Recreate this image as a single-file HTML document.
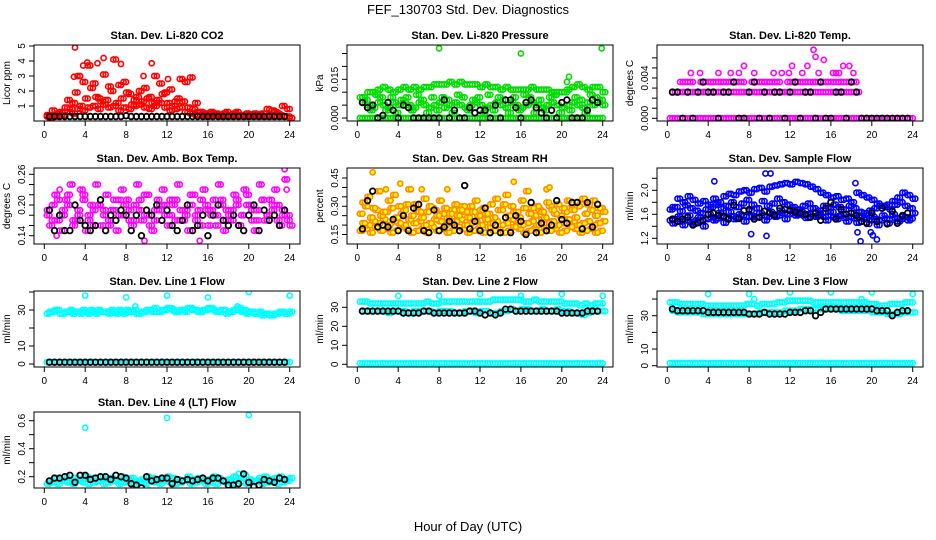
<!DOCTYPE html>
<html><head><meta charset="utf-8"><style>
html,body{margin:0;padding:0;background:#fff}
svg{display:block;font-family:"Liberation Sans",Arial,sans-serif}
</style></head><body>
<svg id="chart" width="936" height="540" viewBox="0 0 936 540" xmlns="http://www.w3.org/2000/svg">
<rect x="0" y="0" width="936" height="540" fill="#fff"/>
<text x="468" y="14" text-anchor="middle" font-size="13">FEF_130703  Std. Dev. Diagnostics</text>
<text x="468" y="531" text-anchor="middle" font-size="13">Hour of Day (UTC)</text>
</svg>
<script>
function parse(s){return s.trim().split(/\s+/).map(function(v){return v==='x'?null:+v;});}
// hour categories
const hourTicks = [0,4,8,12,16,20,24];
const hourTickLabels = ["0","4","8","12","16","20","24"];
// P1 CO2
const co2Low = parse("0.3 0.3 0.5 0.4 0.6 0.5 0.8 0.7 0.9 1.0 0.8 1.1 0.9 1.0 0.7 0.9 0.8 1.0 1.1 0.9 0.8 1.0 1.2 0.9 0.7 0.8 0.9 0.6 0.5 0.4 0.4 0.3 0.3 0.4 0.3 0.3 0.3 0.3 0.4 0.3 0.3 0.3 0.3 0.3 0.3 0.3 0.3 0.3");
const co2High = parse("0.4 0.7 0.3 0.6 1.4 1.2 3.0 2.6 3.7 2.5 1.5 3.1 2.3 4.1 2.4 2.6 1.8 1.4 2.0 2.2 1.6 3.0 2.5 1.9 2.1 1.3 2.8 2.6 2.9 1.2 0.6 0.5 0.6 0.5 0.4 0.6 0.4 0.6 0.3 0.5 0.4 0.4 0.5 0.8 0.7 0.5 1.0 0.8");
const co2Mid = parse("0.2 0.4 0.6 0.9 0.8 1.9 1.0 1.5 2.2 1.6 1.3 1.4 2.0 1.2 1.5 1.9 1.1 1.6 1.3 1.5 1.2 1.4 1.8 1.2 1.0 1.5 1.3 0.9 0.8 0.6 0.5 0.4 0.5 0.4 0.5 0.4 0.5 0.4 0.3 0.4 0.5 0.4 0.3 0.4 0.6 0.4 0.3 0.2");
const co2OutHour = [3,4.2,5.8,3.8,7.5,10.5,5.2,2.9,9.7,12.1];
const co2OutVal = [4.9,3.9,4.2,3.7,3.8,3.85,3.85,2.95,3.0,2.8];
const co2Black = parse("0.3 0.3 0.3 0.3 0.3 0.3 0.3 0.3 0.3 0.3 0.3 0.3 0.3 0.3 0.3 0.35 0.3 0.3 0.3 0.3 0.3 0.3 0.3 0.3 0.3 0.3 0.3 0.3 0.3 0.3 0.3 0.3 0.3 0.3 0.3 0.3 0.3 0.3 0.3 0.3 0.3 0.3 0.3 0.3 0.3 0.3 0.3");
// P2 pressure
const presUpper = parse("0.008 0.010 0.010 0.011 0.012 0.011 0.010 0.011 0.012 0.011 0.012 0.011 0.012 0.012 0.013 0.013 0.013 0.014 0.013 0.014 0.013 0.013 0.013 0.012 0.013 0.012 0.012 0.011 0.012 0.011 0.011 0.011 0.011 0.012 0.011 0.011 0.011 0.010 0.010 0.010 0.011 0.012 0.013 0.012 0.011 0.012 0.012 0.010");
const presLower = parse("0.006 0.005 0.004 0.006 0.005 0.004 0.006 0.005 0.006 0.005 0.004 0.006 0.005 0.004 0.005 0.006 0.004 0.005 0.006 0.005 0.004 0.005 0.006 0.005 0.004 0.005 0.006 0.005 0.004 0.006 0.005 0.004 0.005 0.006 0.005 0.004 0.005 0.006 0.005 0.004 0.005 0.006 0.005 0.004 0.006 0.005 0.006 0.005");
const presMid = parse("0.008 0.007 0.003 0.009 0.008 0.003 0.008 0.002 0.007 0.008 0.003 0.009 0.007 0.002 0.008 0.003 0.008 0.007 0.002 0.009 0.008 0.003 0.007 0.008 0.002 0.009 0.003 0.008 0.007 0.002 0.008 0.003 0.009 0.008 0.002 0.007 0.003 0.008 0.009 0.002 0.010 0.003 0.008 0.007 0.002 0.009 0.008 0.007");
const presZero = parse("0 0 0 0 0 0 0 0 0 0 0 0 0 0 0 0 0 0 0 0 0 0 0 0 0 0 0 0 0 0 0 0 0 0 0 0 0 0 0 0 0 0 0 0 0 0 0 0");
const presOutHour = [8,16,23.9,20.7,20.5];
const presOutVal = [0.027,0.025,0.027,0.016,0.014];
const presBlack = parse("0.006 0.004 0.005 0 0.001 0.006 0.003 0 0.005 0.004 0 0 0 0 0 0 0.007 0 0.003 0 0 0.004 0.002 0.003 0.003 0 0.005 0 0.007 0.007 0.004 0 0.006 0.007 0.004 0.002 0 0.003 0 0.006 0.007 0 0 0 0.003 0.007 0.006");
// P3 Li-820 temp
const tempZero = parse("0 0 0 0 0 0 0 0 0 0 0 0 0 0 0 0 0 0 0 0 0 0 0 0 0 0 0 0 0 0 0 0 0 0 0 0 0 0 0 0 0 0 0 0 0 0 0 0");
const tempMid = parse("0.0026 0.0026 0.0026 0.0026 0.0026 0.0026 0.0026 0.0026 0.0026 0.0026 0.0026 0.0026 0.0026 0.0026 0.0026 0.0026 0.0026 0.0026 0.0026 0.0026 0.0026 0.0026 0.0026 0.0026 0.0026 0.0026 0.0026 0.0026 0.0026 0.0026 0.0026 0.0026 0.0026 0.0026 0.0026 0.0026 0.0026 x x x x x x x x x x x");
const tempUpper = parse("x x 0.0036 0.0036 0.0036 x 0.0036 0.0036 0.0036 0.0036 0.0036 0.0036 0.0036 0.0036 0.0036 x 0.0036 0.0036 0.0036 0.0036 0.0036 0.0036 x 0.0036 0.0036 0.0036 0.0036 0.0036 0.0036 0.0036 0.0036 0.0036 0.0036 0.0036 0.0036 0.0036 0.0036 x x x x x x x x x x x");
const tempOutHour = [2.3,3.2,5,6.2,7,7.5,8.5,10.4,11.2,12.2,13.7,14.3,14.5,14.8,15.3,16.2,16.5,16.8,17.2,17.8,18.2,13.2,11.9];
const tempOutVal = [0.0045,0.0045,0.0045,0.0045,0.0045,0.0052,0.0045,0.0045,0.0045,0.0052,0.0052,0.0068,0.0061,0.0045,0.0058,0.0045,0.0045,0.0045,0.0052,0.0052,0.0045,0.0045,0.0045];
const tempBlack = parse("0.0026 0.0026 0 0.0026 0 0.0026 0.0036 0.0026 0.0026 0 0.0026 0.0026 0.0036 0 0 0.0026 0.0036 0 0.0026 0 0.0026 0.0026 0 0.0026 0.0036 0 0.0026 0.0026 0 0.0036 0 0 0.0026 0.0026 0 0.0036 0.0026 0 0 0 0 0 0 0 0 0 0");
// P4 amb box temp
const ambA = parse("0.18 0.20 0.17 0.19 0.22 0.16 0.18 0.21 0.17 0.19 0.20 0.18 0.16 0.19 0.21 0.18 0.17 0.20 0.19 0.22 0.18 0.17 0.19 0.20 0.18 0.21 0.17 0.19 0.22 0.18 0.16 0.20 0.19 0.18 0.21 0.17 0.19 0.20 0.18 0.22 0.17 0.19 0.21 0.18 0.20 0.17 0.19 0.18");
const ambB = parse("0.16 0.22 0.15 0.21 0.24 0.17 0.23 0.15 0.20 0.24 0.16 0.22 0.19 0.15 0.23 0.21 0.16 0.24 0.17 0.22 0.15 0.21 0.23 0.16 0.20 0.24 0.17 0.15 0.22 0.19 0.23 0.16 0.21 0.24 0.15 0.18 0.22 0.16 0.23 0.20 0.15 0.24 0.17 0.21 0.23 0.16 0.25 0.16");
const ambC = parse("0.19 0.17 0.21 0.18 0.20 0.17 0.19 0.22 0.18 0.16 0.20 0.19 0.17 0.21 0.18 0.20 0.19 0.17 0.21 0.18 0.16 0.19 0.20 0.18 0.21 0.17 0.19 0.18 0.20 0.17 0.21 0.19 0.18 0.16 0.20 0.19 0.17 0.21 0.18 0.20 0.19 0.17 0.21 0.18 0.19 0.20 0.18 0.17");
const ambOutHour = [23.5,15.2,1.2,9.8,1.5,23.7];
const ambOutVal = [0.27,0.13,0.14,0.13,0.23,0.23];
const ambBlack = parse("0.19 0.15 0.18 0.15 0.15 0.20 0.17 0.16 0.15 0.16 0.21 0.15 0.18 0.17 0.19 0.18 0.15 0.18 0.14 0.19 0.18 0.20 0.17 0.19 0.16 0.15 0.17 0.20 0.15 0.16 0.18 0.14 0.18 0.20 0.17 0.16 0.18 0.16 0.15 0.18 0.20 0.15 0.19 0.17 0.18 0.16 0.19");
// P5 RH
const rhLow = parse("0.17 0.18 0.16 0.19 0.17 0.18 0.16 0.17 0.19 0.18 0.16 0.17 0.18 0.16 0.19 0.17 0.18 0.16 0.17 0.19 0.18 0.16 0.17 0.18 0.16 0.19 0.17 0.18 0.16 0.17 0.19 0.18 0.16 0.17 0.18 0.16 0.19 0.17 0.18 0.16 0.17 0.19 0.18 0.16 0.17 0.18 0.16 0.17");
const rhMid = parse("0.21 0.20 0.22 0.21 0.23 0.20 0.22 0.21 0.20 0.23 0.21 0.22 0.20 0.21 0.23 0.22 0.20 0.21 0.22 0.23 0.20 0.21 0.22 0.20 0.23 0.21 0.22 0.20 0.21 0.23 0.22 0.20 0.21 0.22 0.20 0.23 0.21 0.22 0.20 0.21 0.23 0.22 0.20 0.21 0.22 0.20 0.21 0.22");
const rhUpper = parse("0.26 0.30 0.24 0.28 0.25 0.27 0.29 0.24 0.26 0.31 0.25 0.28 0.24 0.27 0.29 0.25 0.26 0.24 0.28 0.25 0.30 0.24 0.27 0.25 0.29 0.26 0.24 0.28 0.31 0.25 0.27 0.24 0.29 0.26 0.25 0.28 0.24 0.30 0.26 0.25 0.27 0.29 0.24 0.31 0.26 0.28 0.25 0.29");
const rhHigh = parse("0.32 0.35 0.29 0.38 0.27 0.33 0.36 0.30 0.28 0.39 0.31 0.27 0.34 0.30 0.28 0.33 0.29 0.26 0.31 0.28 0.27 0.30 0.33 0.28 0.26 0.31 0.34 0.28 0.36 0.30 0.27 0.33 0.38 0.29 0.30 0.27 0.32 0.28 0.31 0.29 0.33 0.28 0.30 0.34 0.31 0.33 0.29 0.27");
const rhOutHour = [1.5,2.8,4.2,6.3,8.8,15.3,18.5,18.8];
const rhOutVal = [0.48,0.39,0.42,0.39,0.39,0.43,0.39,0.40];
const rhBlack = parse("0.18 0.33 0.38 0.19 0.20 0.19 0.23 0.17 0.25 0.17 0.29 0.31 0.17 0.16 0.28 0.17 0.19 0.22 0.20 0.17 0.41 0.18 0.22 0.17 0.29 0.16 0.20 0.16 0.24 0.16 0.25 0.22 0.15 0.32 0.16 0.21 0.17 0.20 0.33 0.23 0.21 0.32 0.32 0.18 0.32 0.19 0.31");
// P6 sample flow
const sfLow = parse("1.50 1.52 1.48 1.50 1.47 1.50 1.49 1.52 1.55 1.53 1.56 1.54 1.57 1.55 1.58 1.56 1.57 1.55 1.58 1.56 1.60 1.58 1.62 1.60 1.62 1.60 1.58 1.60 1.57 1.59 1.56 1.58 1.55 1.57 1.54 1.56 1.53 1.55 1.52 1.50 1.52 1.50 1.53 1.51 1.54 1.52 1.55 1.53");
const sfLowWide = parse("1.45 1.56 1.42 1.58 1.44 1.55 1.40 1.60 1.50 1.62 1.46 1.64 1.52 1.60 1.48 1.66 1.55 1.62 1.50 1.64 1.56 1.66 1.52 1.68 1.58 1.64 1.54 1.70 1.56 1.62 1.50 1.64 1.52 1.60 1.48 1.62 1.46 1.58 1.44 1.56 1.42 1.58 1.45 1.60 1.48 1.56 1.50 1.62");
const sfUpper = parse("1.72 1.86 1.80 1.90 1.84 1.78 1.82 1.76 1.86 1.80 1.90 1.94 1.92 1.98 2.00 1.96 2.02 2.04 1.98 2.06 2.08 2.10 2.12 2.10 2.14 2.12 2.10 2.06 2.02 1.96 1.92 1.88 1.90 1.84 1.86 1.80 1.96 1.92 1.88 1.84 1.78 1.74 1.76 1.82 1.88 1.96 1.92 1.86");
const sfMid = parse("1.68 1.72 1.65 1.75 1.70 1.66 1.62 1.68 1.72 1.76 1.70 1.74 1.80 1.72 1.78 1.84 1.76 1.70 1.82 1.74 1.78 1.86 1.80 1.76 1.72 1.68 1.74 1.78 1.70 1.66 1.74 1.70 1.76 1.72 1.68 1.74 1.70 1.64 1.62 1.66 1.70 1.74 1.72 1.68 1.76 1.80 1.74 1.70");
const sfOutHour = [4.6,9.6,10.1,18.4,18.6,18.9,8.2,9.7,20.1,20.5,19.9];
const sfOutVal = [2.15,2.28,2.28,2.12,1.30,1.15,1.27,1.24,1.25,1.18,1.30];
const sfBlack = parse("1.52 1.48 1.52 1.55 1.42 1.46 1.50 1.60 1.62 1.58 1.57 1.52 1.75 1.53 1.66 1.68 1.52 1.55 1.65 1.62 1.58 1.70 1.68 1.66 1.64 1.62 1.60 1.55 1.62 1.50 1.70 1.80 1.52 1.68 1.60 1.62 1.58 1.48 1.46 1.62 1.48 1.70 1.44 1.65 1.45 1.58 1.62");
// P7 line 1
const l1Band = parse("29 30 28 29 30 29 28 29 30 28 29 29 30 28 29 30 29 28 29 30 29 29 30 31 30 29 30 31 30 29 30 31 30 29 30 29 30 31 30 29 28 29 28 27 28 29 28 29");
const l1Band2 = parse("28 29 30 28 29 28 29 30 28 29 30 29 28 29 30 28 29 30 28 29 30 31 29 30 31 29 30 29 31 30 29 30 31 29 30 28 29 30 29 28 29 28 27 28 27 28 29 28");
const l1Zero = parse("1 1 1 1 1 1 1 1 1 1 1 1 1 1 1 1 1 1 1 1 1 1 1 1 1 1 1 1 1 1 1 1 1 1 1 1 1 1 1 1 1 1 1 1 1 1 1 1");
const l1OutHour = [4,8,12,16,20,24,8.9,18.9];
const l1OutVal = [38,37,38,37,40,38,32,32];
const l1Black = parse("1 1 1 1 1 1 1 1 1 1 1 1 1 1 1 1 1 1 1 1 1 1 1 1 1 1 1 1 1 1 1 1 1 1 1 1 1 1 1 1 1 1 1 1 1 1 1");
// P8 line 2
const l2Upper = parse("33 33 32 32 32 32 32 32 32 32 32 32 32 33 32 32 33 33 33 33 33 33 33 33 33 33 34 34 34 34 34 34 33 33 34 33 33 33 33 33 32 32 32 31 32 31 32 32");
const l2Mid = parse("28 28 28 28 28 27 28 28 28 27 28 28 28 28 27 28 28 28 27 27 28 28 27 28 28 27 27 28 28 29 28 29 29 28 28 29 28 28 29 28 28 27 27 26 27 28 28 28");
const l2Zero = parse("0.5 0.5 0.5 0.5 0.5 0.5 0.5 0.5 0.5 0.5 0.5 0.5 0.5 0.5 0.5 0.5 0.5 0.5 0.5 0.5 0.5 0.5 0.5 0.5 0.5 0.5 0.5 0.5 0.5 0.5 0.5 0.5 0.5 0.5 0.5 0.5 0.5 0.5 0.5 0.5 0.5 0.5 0.5 0.5 0.5 0.5 0.5 0.5");
const l2OutHour = [4,8,9,12,16,20,24];
const l2OutVal = [36,36,33,37,36,37,36];
const l2Black = parse("28 28 28 28 28 28 28 28 27 27 27 27 28 28 27 27 27 27 27 27 27 28 28 27 26 27 26 27 29 29 28 28 28 28 28 28 28 28 28 27 27 27 27 27 28 28 28");
// P9 line 3
const l3Upper = parse("38 38 37 37 37 37 37 36 36 36 36 36 36 36 36 37 37 36 37 37 37 38 38 39 39 39 39 39 38 38 38 38 38 38 38 38 38 38 38 37 37 36 36 37 37 37 38 38");
const l3Lower = parse("33 32 32 32 32 32 31 31 31 31 31 31 31 31 31 31 31 32 32 32 32 32 33 33 33 34 34 34 34 34 34 34 34 33 33 33 33 33 33 32 32 32 31 31 31 32 32 32");
const l3Zero = parse("1.5 1.5 1.5 1.5 1.5 1.5 1.5 1.5 1.5 1.5 1.5 1.5 1.5 1.5 1.5 1.5 1.5 1.5 1.5 1.5 1.5 1.5 1.5 1.5 1.5 1.5 1.5 1.5 1.5 1.5 1.5 1.5 1.5 1.5 1.5 1.5 1.5 1.5 1.5 1.5 1.5 1.5 1.5 1.5 1.5 1.5 1.5 1.5");
const l3OutHour = [4,8,8.5,12,16,20,19,24];
const l3OutVal = [43,43,40,44,44,44,40,43];
const l3Black = parse("34 33 33 33 33 33 33 32 32 32 32 32 32 32 32 31 31 31 32 31 31 31 31 32 32 32 33 33 30 32 34 34 34 34 34 34 34 34 34 34 33 33 33 30 32 33 33");
// P10 line 4
const l4Band = parse("0.17 0.19 0.18 0.20 0.17 0.19 0.18 0.20 0.19 0.17 0.20 0.18 0.19 0.17 0.20 0.18 0.19 0.17 0.18 0.20 0.19 0.17 0.18 0.20 0.19 0.18 0.17 0.20 0.18 0.19 0.17 0.18 0.20 0.19 0.17 0.18 0.20 0.19 0.21 0.18 0.17 0.19 0.20 0.18 0.19 0.20 0.18 0.19");
const l4Band2 = parse("0.15 0.16 0.15 0.17 0.16 0.15 0.17 0.16 0.15 0.16 0.17 0.15 0.16 0.17 0.15 0.16 0.17 0.15 0.16 0.15 0.17 0.16 0.15 0.17 0.16 0.15 0.16 0.17 0.15 0.16 0.17 0.15 0.16 0.15 0.17 0.16 0.15 0.17 0.16 0.15 0.16 0.17 0.15 0.16 0.17 0.15 0.16 0.17");
const l4OutHour = [4,12,20,19,10];
const l4OutVal = [0.55,0.62,0.64,0.22,0.12];
const l4Black = parse("0.17 0.19 0.19 0.20 0.21 0.16 0.21 0.21 0.18 0.19 0.20 0.20 0.18 0.21 0.20 0.19 0.15 0.14 0.12 0.20 0.17 0.18 0.19 0.19 0.15 0.18 0.17 0.18 0.17 0.18 0.19 0.17 0.19 0.19 0.17 0.14 0.14 0.15 0.22 0.16 0.13 0.14 0.18 0.17 0.16 0.19 0.18");

const NS = "http://www.w3.org/2000/svg";
const svg = document.getElementById('chart');
const colLeft = [34, 347, 657], rowTop = [45, 168, 291, 412], boxW = 266, boxH = 76;

function mk(tag, parent){const e=document.createElementNS(NS,tag);parent.appendChild(e);return e;}

const panels = [
 {key:'co2',title:'Stan. Dev. Li-820 CO2',ylab:'Licor ppm',c:0,r:0,ref:[0,121,5,46],ticks:[1,2,3,4,5],tl:['1','2','3','4','5'],color:'#ff0000',
  series:[co2Low,co2Mid,co2High],outH:co2OutHour,outV:co2OutVal,black:co2Black},
 {key:'pressure',title:'Stan. Dev. Li-820 Pressure',ylab:'kPa',c:1,r:0,ref:[0,118,0.015,79.3],ticks:[0,0.005,0.01,0.015,0.02,0.025],tl:['0.000','','','0.015','',''],color:'#00dd00',
  series:[presZero,presLower,presMid,presUpper],outH:presOutHour,outV:presOutVal,black:presBlack},
 {key:'li820-temp',title:'Stan. Dev. Li-820 Temp.',ylab:'degrees C',c:2,r:0,ref:[0,118.3,0.004,78],ticks:[0,0.001,0.002,0.003,0.004,0.005,0.006],tl:['0.000','','','','0.004','',''],color:'#ff00ff',
  series:[tempZero,tempMid,tempUpper],outH:tempOutHour,outV:tempOutVal,black:tempBlack},
 {key:'amb-box-temp',title:'Stan. Dev. Amb. Box Temp.',ylab:'degrees C',c:0,r:1,ref:[0.14,235.7,0.20,205],ticks:[0.14,0.16,0.18,0.20,0.22,0.24,0.26],tl:['0.14','','','0.20','','','0.26'],color:'#ff00ff',
  series:[ambA,ambB,ambC],outH:ambOutHour,outV:ambOutVal,black:ambBlack},
 {key:'gas-stream-rh',title:'Stan. Dev. Gas Stream RH',ylab:'percent',c:1,r:1,ref:[0.15,234.5,0.45,178],ticks:[0.15,0.2,0.25,0.3,0.35,0.4,0.45],tl:['0.15','','','0.30','','','0.45'],color:'#ff8c00',fill:'#ffff00',
  series:[rhLow,rhMid,rhUpper,rhHigh],outH:rhOutHour,outV:rhOutVal,black:rhBlack},
 {key:'sample-flow',title:'Stan. Dev. Sample Flow',ylab:'ml/min',c:2,r:1,ref:[1.2,238.3,2.0,190.3],ticks:[1.2,1.4,1.6,1.8,2.0,2.2],tl:['1.2','','1.6','','2.0',''],color:'#0000ff',
  series:[sfLow,sfLowWide,sfMid,sfUpper],outH:sfOutHour,outV:sfOutVal,black:sfBlack},
 {key:'line1-flow',title:'Stan. Dev. Line 1 Flow',ylab:'ml/min',c:0,r:2,ref:[0,364,30,310],ticks:[0,10,20,30,40],tl:['0','10','','30',''],color:'#00ffff',
  series:[l1Zero,l1Band,l1Band2],outH:l1OutHour,outV:l1OutVal,black:l1Black},
 {key:'line2-flow',title:'Stan. Dev. Line 2 Flow',ylab:'ml/min',c:1,r:2,ref:[0,364.3,30,307.3],ticks:[0,10,20,30],tl:['0','10','20','30'],color:'#00ffff',
  series:[l2Zero,l2Mid,l2Upper],outH:l2OutHour,outV:l2OutVal,black:l2Black},
 {key:'line3-flow',title:'Stan. Dev. Line 3 Flow',ylab:'ml/min',c:2,r:2,ref:[0,365.7,30,315.7],ticks:[0,10,20,30,40],tl:['0','10','','30',''],color:'#00ffff',
  series:[l3Zero,l3Lower,l3Upper],outH:l3OutHour,outV:l3OutVal,black:l3Black},
 {key:'line4-flow',title:'Stan. Dev. Line 4 (LT) Flow',ylab:'ml/min',c:0,r:3,ref:[0.2,476.7,0.6,420.7],ticks:[0.2,0.3,0.4,0.5,0.6],tl:['0.2','','0.4','','0.6'],color:'#00ffff',
  series:[l4Band2,l4Band],outH:l4OutHour,outV:l4OutVal,black:l4Black}
];

panels.forEach(function(p){
  const L = colLeft[p.c], T = rowTop[p.r], B = T + boxH;
  const xs = function(h){return L + 10.3 + h * (boxW - 20.6) / 24;};
  const ys = function(v){return p.ref[1] + (v - p.ref[0]) * (p.ref[3] - p.ref[1]) / (p.ref[2] - p.ref[0]);};
  const g = mk('g', svg);
  
  
  const clipId = 'clip-' + p.key;
  const cp = mk('clipPath', g); cp.setAttribute('id', clipId);
  const cr = mk('rect', cp); cr.setAttribute('x', L); cr.setAttribute('y', T); cr.setAttribute('width', boxW); cr.setAttribute('height', boxH);
  const tt = mk('text', g);
  
  
  tt.setAttribute('x', L + boxW/2); tt.setAttribute('y', T - 6); tt.setAttribute('text-anchor','middle');
  tt.setAttribute('font-size','11'); tt.setAttribute('font-weight','bold'); tt.textContent = p.title;
  const yl = mk('text', g);
  
  
  const ylx = L - 24, yly = T + boxH/2;
  yl.setAttribute('x', ylx); yl.setAttribute('y', yly); yl.setAttribute('text-anchor','middle');
  yl.setAttribute('font-size','10'); yl.setAttribute('transform','rotate(-90 ' + ylx + ' ' + yly + ')'); yl.textContent = p.ylab;
  const xa = mk('g', g);
  
  
  const xl = mk('line', xa);
  xl.setAttribute('x1', xs(hourTicks[0])); xl.setAttribute('x2', xs(hourTicks[hourTicks.length-1]));
  xl.setAttribute('y1', B); xl.setAttribute('y2', B); xl.setAttribute('stroke','#000');
  hourTicks.forEach(function(h, i){
    const tk = mk('line', xa);
    
    
    tk.setAttribute('x1', xs(h)); tk.setAttribute('x2', xs(h)); tk.setAttribute('y1', B); tk.setAttribute('y2', B + 5); tk.setAttribute('stroke','#000');
    const lb = mk('text', xa);
    
    
    lb.setAttribute('x', xs(h)); lb.setAttribute('y', B + 17); lb.setAttribute('text-anchor','middle'); lb.setAttribute('font-size','10');
    lb.textContent = hourTickLabels[i];
  });
  const ya = mk('g', g);
  
  
  const yline = mk('line', ya);
  yline.setAttribute('x1', L); yline.setAttribute('x2', L);
  yline.setAttribute('y1', ys(p.ticks[0])); yline.setAttribute('y2', ys(p.ticks[p.ticks.length-1])); yline.setAttribute('stroke','#000');
  p.ticks.forEach(function(v, i){
    const y = ys(v);
    const tk = mk('line', ya);
    
    
    tk.setAttribute('x1', L - 5); tk.setAttribute('x2', L); tk.setAttribute('y1', y); tk.setAttribute('y2', y); tk.setAttribute('stroke','#000');
    if (p.tl[i]) {
      const lb = mk('text', ya);
      
      
      const lx = L - 9;
      lb.setAttribute('x', lx); lb.setAttribute('y', y); lb.setAttribute('text-anchor','middle'); lb.setAttribute('font-size','10');
      lb.setAttribute('transform','rotate(-90 ' + lx + ' ' + y + ')');
      lb.textContent = p.tl[i];
    }
  });
  const pts = mk('g', g);
  
  
  pts.setAttribute('clip-path', 'url(#' + clipId + ')');
  function dot(h, v, color, fill, r, sw, name){
    if (v === null || v === undefined) return;
    const c = mk('circle', pts);
    
    
    c.setAttribute('cx', xs(h)); c.setAttribute('cy', ys(v)); c.setAttribute('r', r);
    c.setAttribute('fill', fill); c.setAttribute('stroke', color); c.setAttribute('stroke-width', sw);
  }
  p.series.forEach(function(arr, si){
    const start = (si % 2 === 0) ? 0.25 : 0.5;
    arr.forEach(function(v, i){ dot(start + i * 0.5, v, p.color, p.fill || 'none', 2.6, 1.6, p.key + '-point'); });
    arr.forEach(function(v, i){ dot(start + 0.25 + i * 0.5, v, p.color, p.fill || 'none', 2.6, 1.6, p.key + '-point'); });
  });
  p.outH.forEach(function(h, i){ dot(h, p.outV[i], p.color, p.fill || 'none', 2.6, 1.6, p.key + '-outlier'); });
  p.black.forEach(function(v, i){ dot(0.5 + i * 0.5, v, '#000', 'none', 2.8, 1.8, p.key + '-daily-point'); });
  const bx = mk('rect', g);
  
  
  bx.setAttribute('x', L); bx.setAttribute('y', T); bx.setAttribute('width', boxW); bx.setAttribute('height', boxH);
  bx.setAttribute('fill','none'); bx.setAttribute('stroke','#000');
});
</script>
</body></html>
